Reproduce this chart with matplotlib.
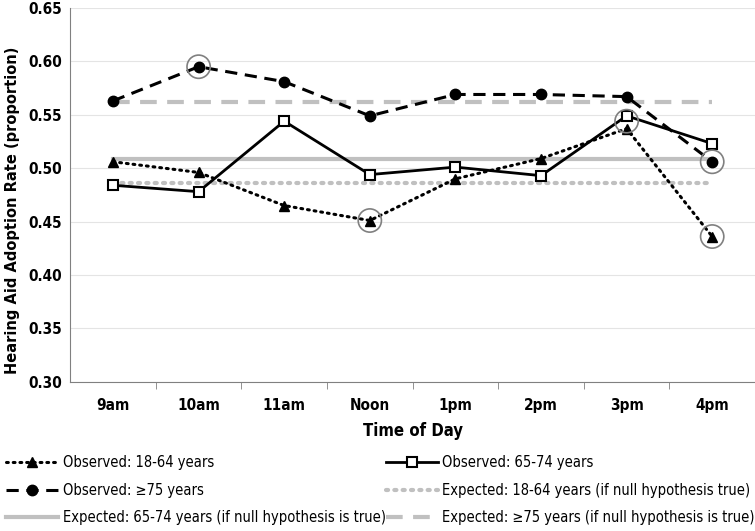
import matplotlib
matplotlib.use("Agg")
import matplotlib.pyplot as plt
from matplotlib.lines import Line2D
from matplotlib import font_manager
import numpy as np

times = ["9am", "10am", "11am", "Noon", "1pm", "2pm", "3pm", "4pm"]
obs_18_64 = [0.506, 0.496, 0.465, 0.451, 0.490, 0.509, 0.537, 0.436]
obs_65_74 = [0.484, 0.478, 0.544, 0.494, 0.501, 0.493, 0.549, 0.523]
obs_75 = [0.563, 0.595, 0.581, 0.549, 0.569, 0.569, 0.567, 0.506]
exp_18_64 = 0.486
exp_65_74 = 0.509
exp_75 = 0.562
# highlighted (significant) points: (time index, value)
hl_idx = [1, 3, 6, 7, 7]
hl_val = [0.595, 0.451, 0.544, 0.506, 0.436]

names = {f.name for f in font_manager.fontManager.ttflist}
narrow = "Liberation Sans Narrow" if "Liberation Sans Narrow" in names else "DejaVu Sans"
plt.rcParams['font.family'] = [narrow, 'DejaVu Sans']
plt.rcParams['font.stretch'] = 'condensed'

fig = plt.figure(figsize=(7.55, 5.31), dpi=100)
ax = fig.add_axes([0.093, 0.281, 0.907, 0.704])
x = np.arange(len(times))

ax.plot(x, [exp_65_74] * len(x), color="#c0c0c0", lw=3, zorder=1)
ax.plot(x, [exp_18_64] * len(x), color="#c0c0c0", lw=3, ls=(0, (0.5, 1.5)),
        dash_capstyle="round", zorder=1)
ax.plot(x, [exp_75] * len(x), color="#c0c0c0", lw=3, ls=(0, (4, 2.5)), zorder=1)

ax.plot(x, obs_18_64, color="black", lw=2.2, ls=(0, (0.6, 1.6)), dash_capstyle="round",
        marker="^", ms=7.5, zorder=3)
ax.plot(x, obs_65_74, color="black", lw=2, marker="s", ms=6.5, mfc="white",
        mew=1.5, zorder=3)
ax.plot(x, obs_75, color="black", lw=2.2, ls=(0, (4, 2.5)), marker="o", ms=7.5, zorder=3)

ax.scatter(x[hl_idx], hl_val, s=280, facecolors="none", edgecolors="#808080",
           linewidths=1.2, zorder=4)

ax.set_xlim(-0.5, 7.5)
ax.set_ylim(0.30, 0.65)
ax.set_yticks(np.arange(0.30, 0.651, 0.05))
ax.set_yticklabels([f"{v:.2f}" for v in np.arange(0.30, 0.651, 0.05)],
                   fontsize=11, fontweight="bold")
ax.set_xticks(x)
ax.set_xticklabels(times, fontsize=11, fontweight="bold")
ax.set_xticks(np.arange(0.5, 7.5, 1), minor=True)
ax.tick_params(axis="x", which="major", length=0, pad=12)
ax.tick_params(axis="x", which="minor", length=5, color="#808080")
ax.tick_params(axis="y", length=0, pad=6)
ax.grid(axis="y", color="#e4e4e4", lw=0.8)
ax.set_axisbelow(True)
for s in ["top", "right"]:
    ax.spines[s].set_visible(False)
for s in ["left", "bottom"]:
    ax.spines[s].set_color("#808080")

ax.set_xlabel("Time of Day", fontsize=12, fontweight="bold", labelpad=6)
fig.text(0.016, 1 - 210 / 531, "Hearing Aid Adoption Rate (proportion)", rotation=90,
         ha="center", va="center", fontsize=10.5, fontweight="bold",
         family="DejaVu Sans", stretch="normal")

handles = [
    Line2D([], [], color="black", lw=2.2, ls=(0, (0.6, 1.6)), marker="^", ms=7.5,
           dash_capstyle="round"),
    Line2D([], [], color="black", lw=2.2, ls=(0, (4, 2.5)), marker="o", ms=7.5),
    Line2D([], [], color="#c0c0c0", lw=3),
    Line2D([], [], color="black", lw=2, marker="s", ms=6.5, mfc="white", mew=1.5),
    Line2D([], [], color="#c0c0c0", lw=3, ls=(0, (0.5, 1.5)), dash_capstyle="round"),
    Line2D([], [], color="#c0c0c0", lw=3, ls=(0, (4, 2.5))),
]
labels = [
    "Observed: 18-64 years",
    "Observed: \u226575 years",
    "Expected: 65-74 years (if null hypothesis is true)",
    "Observed: 65-74 years",
    "Expected: 18-64 years (if null hypothesis true)",
    "Expected: \u226575 years (if null hypothesis is true)",
]
leg_kw = dict(loc="lower left", frameon=False, fontsize=10.5, handlelength=3.6,
              handletextpad=0.3, labelspacing=0.85, borderaxespad=0.2, borderpad=0.2)
leg1 = fig.legend(handles[:3], labels[:3], bbox_to_anchor=(0.0, 0.0), **leg_kw)
fig.legend(handles[3:], labels[3:], bbox_to_anchor=(0.503, 0.0), **leg_kw)

fig.savefig("out.png", dpi=100)
